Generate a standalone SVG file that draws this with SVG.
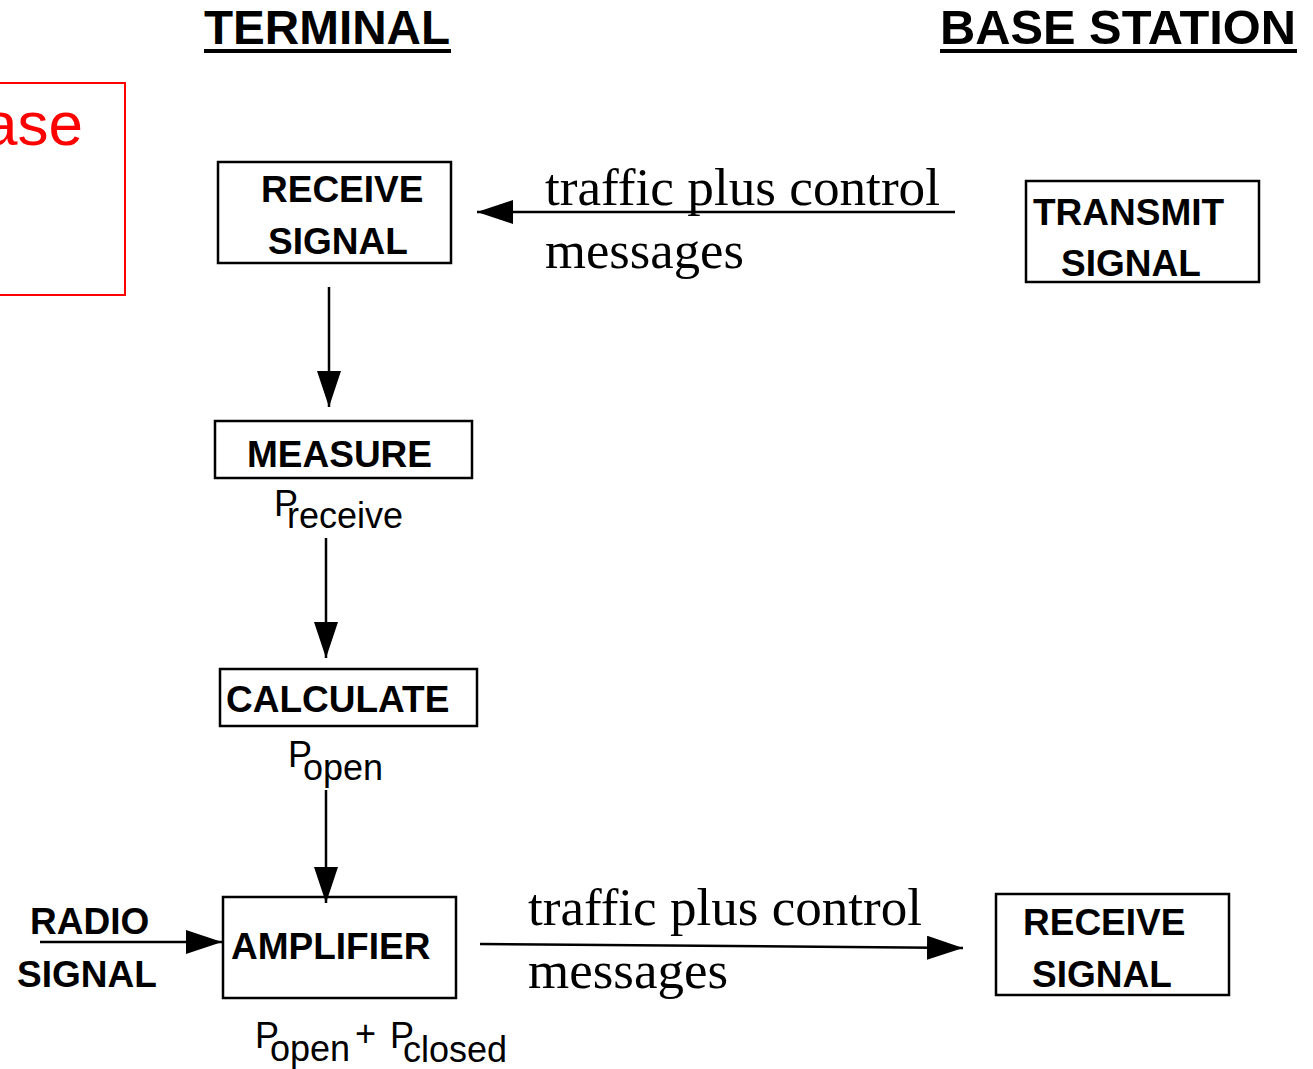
<svg xmlns="http://www.w3.org/2000/svg" width="1313" height="1069" viewBox="0 0 1313 1069">
  <defs>
    <style>
      .box { fill: #ffffff; stroke: #000000; stroke-width: 2.5; }
      .lbl { font-family: "Liberation Sans", Arial, sans-serif; font-weight: bold; font-size: 37px; fill: #000000; }
      .title { font-family: "Liberation Sans", Arial, sans-serif; font-weight: bold; font-size: 48px; fill: #000000; }
      .sym { font-family: "Liberation Sans", Arial, sans-serif; font-size: 36px; fill: #000000; }
      .msg { font-family: "Liberation Serif", "Times New Roman", serif; font-size: 53px; fill: #000000; }
      .wire { stroke: #000000; stroke-width: 2.5; fill: none; }
    </style>
    <marker id="head" viewBox="0 0 36 24" refX="36" refY="12" markerWidth="36" markerHeight="24" markerUnits="userSpaceOnUse" orient="auto">
      <path d="M0,0 L36,12 L0,24 Z" fill="#000000"/>
    </marker>
  </defs>

  <rect width="1313" height="1069" fill="#ffffff"/>

  <!-- column headings -->
  <g id="heading-terminal">
    <text class="title" x="204" y="44" textLength="246" lengthAdjust="spacingAndGlyphs">TERMINAL</text>
    <rect x="204" y="49" width="247" height="4" fill="#000000"/>
  </g>
  <g id="heading-base-station">
    <text class="title" x="940" y="44" textLength="356" lengthAdjust="spacingAndGlyphs">BASE STATION</text>
    <rect x="940" y="49" width="357" height="4" fill="#000000"/>
  </g>

  <!-- red annotation box, partly off the left edge -->
  <g id="note">
    <rect x="-40" y="83" width="165" height="212" fill="none" stroke="#ff0000" stroke-width="2"/>
    <text x="83" y="145" text-anchor="end" font-family="Liberation Sans, Arial, sans-serif" font-size="62" fill="#ff0000">ase</text>
  </g>

  <!-- terminal nodes -->
  <g id="receive-signal-terminal">
    <rect class="box" x="218" y="162" width="233" height="101"/>
    <text class="lbl" x="261" y="202">RECEIVE</text>
    <text class="lbl" x="268" y="254">SIGNAL</text>
  </g>
  <g id="measure">
    <rect class="box" x="215" y="421" width="257" height="57"/>
    <text class="lbl" x="247" y="467">MEASURE</text>
    <text class="sym" x="274" y="516">P<tspan x="287" y="528">receive</tspan></text>
  </g>
  <g id="calculate">
    <rect class="box" x="220" y="669" width="257" height="57"/>
    <text class="lbl" x="226" y="712">CALCULATE</text>
    <text class="sym" x="288" y="767">P<tspan x="303" y="780">open</tspan></text>
  </g>
  <g id="amplifier">
    <rect class="box" x="223" y="897" width="233" height="101"/>
    <text class="lbl" x="231" y="959">AMPLIFIER</text>
    <text class="sym" x="255" y="1048">P<tspan x="270" y="1061">open</tspan><tspan x="355" y="1046">+</tspan><tspan x="390" y="1048">P</tspan><tspan x="403" y="1062">closed</tspan></text>
  </g>
  <g id="radio-signal">
    <text class="lbl" x="30" y="934">RADIO</text>
    <text class="lbl" x="17" y="987">SIGNAL</text>
  </g>

  <!-- base station nodes -->
  <g id="transmit-signal">
    <rect class="box" x="1026" y="181" width="233" height="101"/>
    <text class="lbl" x="1033" y="225">TRANSMIT</text>
    <text class="lbl" x="1061" y="276">SIGNAL</text>
  </g>
  <g id="receive-signal-base">
    <rect class="box" x="996" y="894" width="233" height="101"/>
    <text class="lbl" x="1023" y="935">RECEIVE</text>
    <text class="lbl" x="1032" y="987">SIGNAL</text>
  </g>

  <!-- connectors -->
  <g id="connectors">
    <line class="wire" x1="955" y1="212" x2="477" y2="212" marker-end="url(#head)"/>
    <line class="wire" x1="329" y1="287" x2="329" y2="407" marker-end="url(#head)"/>
    <line class="wire" x1="326" y1="538" x2="326" y2="658" marker-end="url(#head)"/>
    <line class="wire" x1="326" y1="790" x2="326" y2="903" marker-end="url(#head)"/>
    <line class="wire" x1="40" y1="942" x2="222" y2="942" marker-end="url(#head)"/>
    <line class="wire" x1="480" y1="944" x2="963" y2="948" marker-end="url(#head)"/>
  </g>

  <!-- connector labels -->
  <g id="downlink-label">
    <text class="msg" x="545" y="205" textLength="395" lengthAdjust="spacingAndGlyphs">traffic plus control</text>
    <text class="msg" x="545" y="268" textLength="199" lengthAdjust="spacingAndGlyphs">messages</text>
  </g>
  <g id="uplink-label">
    <text class="msg" x="528" y="925" textLength="394" lengthAdjust="spacingAndGlyphs">traffic plus control</text>
    <text class="msg" x="528" y="988" textLength="200" lengthAdjust="spacingAndGlyphs">messages</text>
  </g>
</svg>
